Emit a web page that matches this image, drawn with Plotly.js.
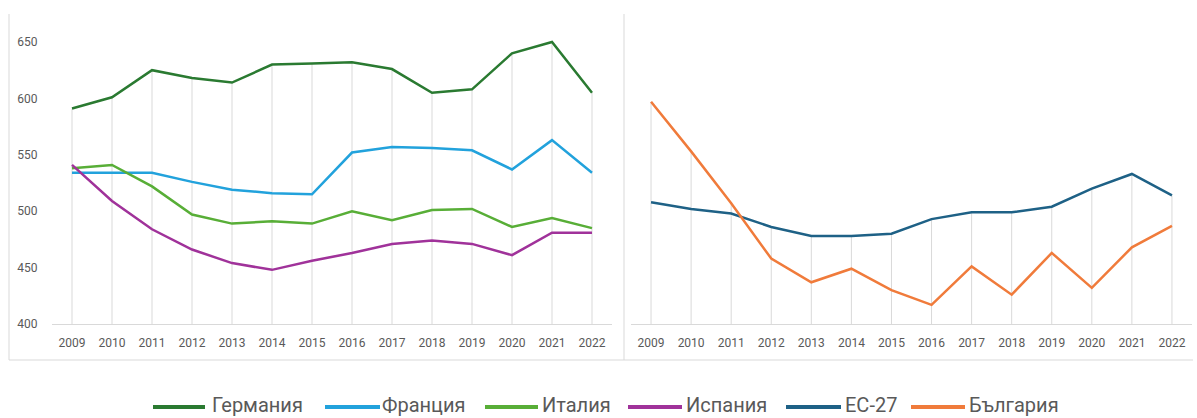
<!DOCTYPE html>
<html>
<head>
<meta charset="utf-8">
<script src="https://cdn.plot.ly/plotly-3.0.1.min.js"></script>
<style>html,body{margin:0;padding:0;background:#fff;}#chart{width:1197px;height:418px;}</style>
</head>
<body>
<div id="chart"></div>
<script>
const years = ["2009","2010","2011","2012","2013","2014","2015","2016","2017","2018","2019","2020","2021","2022"];
const yTicks = [400, 450, 500, 550, 600, 650];

const germany  = [591, 601, 625, 618, 614, 630, 631, 632, 626, 605, 608, 640, 650, 605];
const france   = [534, 534, 534, 526, 519, 516, 515, 552, 557, 556, 554, 537, 563, 534];
const italy    = [538, 541, 522, 497, 489, 491, 489, 500, 492, 501, 502, 486, 494, 485];
const spain    = [541, 509, 484, 466, 454, 448, 456, 463, 471, 474, 471, 461, 481, 481];
const eu27     = [508, 502, 498, 486, 478, 478, 480, 493, 499, 499, 504, 520, 533, 514];
const bulgaria = [597, 553, 507, 458, 437, 449, 430, 417, 451, 426, 463, 432, 468, 487];

const names  = ["Германия", "Франция", "Италия", "Испания", "ЕС-27", "България"];
const colors = ["#2a7a31", "#22a2dc", "#58ae37", "#a0329a", "#1e6186", "#f07b3b"];

const leftSeries  = [germany, france, italy, spain];
const rightSeries = [eu27, bulgaria];

function dropLines(series, xa, ya) {
  const xs = [], ys = [];
  years.forEach((yr, i) => {
    const mx = Math.max(...series.map(s => s[i]));
    xs.push(yr, yr, null);
    ys.push(mx, yTicks[0], null);
  });
  return {x: xs, y: ys, xaxis: xa, yaxis: ya, mode: "lines", type: "scatter",
          line: {color: "#d9d9d9", width: 1}, hoverinfo: "skip", showlegend: false};
}

const traces = [dropLines(leftSeries, "x", "y"), dropLines(rightSeries, "x2", "y2")];
leftSeries.forEach((s, k) => traces.push({
  x: years, y: s, name: names[k], xaxis: "x", yaxis: "y", type: "scatter", mode: "lines",
  line: {color: colors[k], width: 2.5}, showlegend: false
}));
rightSeries.forEach((s, k) => traces.push({
  x: years, y: s, name: names[k + 4], xaxis: "x2", yaxis: "y2", type: "scatter", mode: "lines",
  line: {color: colors[k + 4], width: 2.5}, showlegend: false
}));

const W = 1197, H = 418;
const px = v => v / W, py = v => 1 - v / H;

const tickFont = {family: "Roboto, 'Open Sans', sans-serif", size: 12, color: "#595959"};
const xCommon = {
  type: "category", range: [-0.5, 13.5], showgrid: false, zeroline: false,
  showline: true, linecolor: "#d9d9d9", linewidth: 1,
  ticks: "outside", ticklen: 8, tickcolor: "rgba(0,0,0,0)", tickfont: tickFont, fixedrange: true
};
const yCommon = {
  range: [400, 660], tickvals: yTicks, showgrid: false, zeroline: false, showline: false,
  ticks: "outside", ticklen: 11, tickcolor: "rgba(0,0,0,0)", tickfont: tickFont,
  domain: [py(324), py(30.7)], fixedrange: true
};

// legend positions (pixel): [lineStart, lineEnd, textStart]
const legendPos = [[153, 205, 211], [325, 380, 381], [485, 538, 541], [628, 682, 685], [786, 841, 844], [911, 965, 968]];
const shapes = [
  {type: "line", xref: "paper", yref: "paper", x0: px(9), x1: px(9), y0: py(14), y1: py(360), line: {color: "#d9d9d9", width: 1}},
  {type: "line", xref: "paper", yref: "paper", x0: px(624), x1: px(624), y0: py(14), y1: py(360), line: {color: "#d9d9d9", width: 1}},
  {type: "line", xref: "paper", yref: "paper", x0: px(9), x1: px(1193), y0: py(360), y1: py(360), line: {color: "#d9d9d9", width: 1}}
];
const annotations = [];
names.forEach((n, k) => {
  const p = legendPos[k];
  shapes.push({type: "line", xref: "paper", yref: "paper", x0: px(p[0]), x1: px(p[1]), y0: py(407), y1: py(407),
               line: {color: colors[k], width: 4}});
  annotations.push({xref: "paper", yref: "paper", x: px(p[2]), y: py(417.5), xanchor: "left", yanchor: "bottom",
                    borderpad: 0, text: n, showarrow: false,
                    font: {family: "Roboto, 'Open Sans', sans-serif", size: 20, color: "#595959"}});
});

const layout = {
  width: W, height: H, margin: {l: 0, r: 0, t: 0, b: 0},
  paper_bgcolor: "#ffffff", plot_bgcolor: "rgba(0,0,0,0)", showlegend: false,
  xaxis: Object.assign({}, xCommon, {domain: [px(52), px(612)], anchor: "y"}),
  yaxis: Object.assign({}, yCommon, {anchor: "x"}),
  xaxis2: Object.assign({}, xCommon, {domain: [px(631), px(1192)], anchor: "y2"}),
  yaxis2: Object.assign({}, yCommon, {anchor: "x2", showticklabels: false}),
  shapes: shapes, annotations: annotations
};

Plotly.newPlot("chart", traces, layout, {displayModeBar: false, staticPlot: true});
</script>
</body>
</html>
